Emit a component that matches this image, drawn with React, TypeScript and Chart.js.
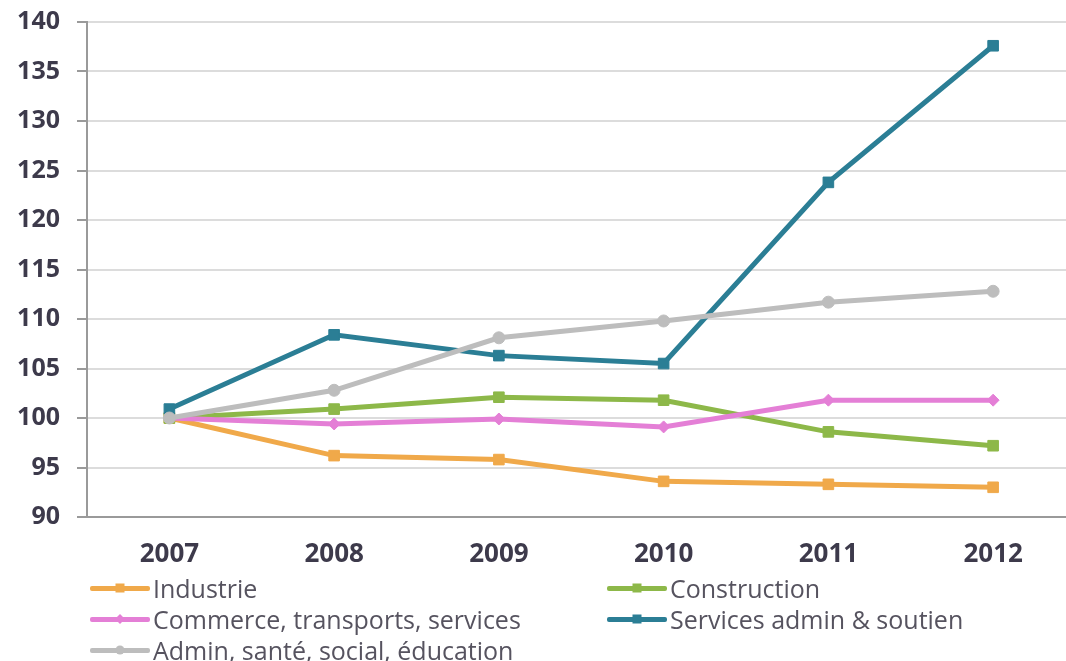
import React, { useEffect, useRef } from "react";
import { Chart, registerables } from "chart.js";

Chart.register(...registerables);

const years = ["2007", "2008", "2009", "2010", "2011", "2012"];
const industrie = [100, 96.2, 95.8, 93.6, 93.3, 93.0];
const construction = [100, 100.9, 102.1, 101.8, 98.6, 97.2];
const commerce = [100, 99.4, 99.9, 99.1, 101.8, 101.8];
const servicesAdmin = [100.9, 108.4, 106.3, 105.5, 123.8, 137.6];
const adminSante = [100, 102.8, 108.1, 109.8, 111.7, 112.8];

const seriesNames = [
  "Industrie",
  "Construction",
  "Commerce, transports, services",
  "Services admin & soutien",
  "Admin, santé, social, éducation",
];
const seriesValues = [industrie, construction, commerce, servicesAdmin, adminSante];
const seriesColors = ["#F0A94A", "#8DB849", "#E47FD6", "#2B7E95", "#BDBDBD"];
const seriesMarkers = ["rect", "rect", "rectRot", "rect", "circle"];
const seriesRadius = [7.5, 7.5, 6, 7.5, 6];
const seriesOrder = [5, 4, 3, 2, 1];

const yMin = 90;
const yMax = 140;
const yStep = 5;

// legend grid: [column, row]
const legendSlots = [
  [0, 0],
  [1, 0],
  [0, 1],
  [1, 1],
  [0, 2],
];

const TEXT_COLOR = "#3d3a4b";
const LEGEND_COLOR = "#56535f";

function LegendMarker({ color, shape }: { color: string; shape: string }) {
  const base: React.CSSProperties = {
    position: "absolute",
    left: "50%",
    top: "50%",
    background: color,
  };
  let style: React.CSSProperties;
  if (shape === "circle") {
    style = { ...base, width: 9, height: 9, borderRadius: "50%", transform: "translate(-50%,-50%)" };
  } else if (shape === "rectRot") {
    style = { ...base, width: 7, height: 7, transform: "translate(-50%,-50%) rotate(45deg)" };
  } else {
    style = { ...base, width: 9, height: 9, transform: "translate(-50%,-50%)" };
  }
  return <div style={style} />;
}

export default function App() {
  const canvasRef = useRef<HTMLCanvasElement | null>(null);

  useEffect(() => {
    const canvas = canvasRef.current;
    if (!canvas) return;
    const chart = new Chart(canvas, {
      type: "line",
      data: {
        labels: years,
        datasets: seriesNames.map((name, i) => ({
          label: name,
          data: seriesValues[i],
          borderColor: seriesColors[i],
          backgroundColor: seriesColors[i],
          borderWidth: 5,
          pointStyle: seriesMarkers[i] as any,
          pointRadius: seriesRadius[i],
          pointBorderWidth: 1,
          pointBorderColor: seriesColors[i],
          pointBackgroundColor: seriesColors[i],
          tension: 0,
          fill: false,
          order: seriesOrder[i],
        })),
      },
      options: {
        responsive: false,
        animation: false,
        layout: { padding: { top: 22, left: 0, right: 0, bottom: 0 } },
        plugins: {
          legend: { display: false },
          title: { display: false },
          tooltip: { enabled: false },
        },
        scales: {
          x: {
            type: "category",
            offset: true,
            grid: { display: false, drawTicks: false },
            border: { display: true, color: "#9a9a9a", width: 2 },
            ticks: {
              color: TEXT_COLOR,
              padding: 22,
              font: { family: "'Open Sans', sans-serif", size: 26, weight: "bold" },
            },
            afterFit: (scale: any) => {
              scale.height = 580 - 517;
            },
          },
          y: {
            min: yMin,
            max: yMax,
            ticks: {
              stepSize: yStep,
              color: TEXT_COLOR,
              padding: 17,
              font: { family: "'Open Sans', sans-serif", size: 25, weight: "bold" },
            },
            grid: {
              color: "#dcdcdc",
              lineWidth: 2,
              tickLength: 10,
              tickColor: "#9a9a9a",
              tickWidth: 2,
            },
            border: { display: true, color: "#9a9a9a", width: 2 },
            afterFit: (scale: any) => {
              scale.width = 87;
              scale.paddingTop = 0;
              scale.paddingBottom = 0;
            },
          },
        },
      },
    });
    return () => chart.destroy();
  }, []);

  return (
    <div
      style={{
        position: "fixed",
        left: 0,
        top: 0,
        width: 1066,
        height: 661,
        overflow: "hidden",
        background: "#ffffff",
      }}
    >
      <canvas ref={canvasRef} width={1084} height={580} style={{ display: "block" }} />
      {seriesNames.map((name, i) => {
        const [col, row] = legendSlots[i];
        const left = col === 0 ? 90 : 607;
        const centerY = [588, 619, 650][row];
        return (
          <div
            key={name}
            style={{
              position: "absolute",
              left,
              top: centerY - 20,
              height: 40,
              display: "flex",
              alignItems: "center",
              whiteSpace: "nowrap",
            }}
          >
            <div
              style={{
                position: "relative",
                width: 60,
                height: 5,
                background: seriesColors[i],
                borderRadius: 2,
                marginRight: 3,
              }}
            >
              <LegendMarker color={seriesColors[i]} shape={seriesMarkers[i]} />
            </div>
            <span
              style={{
                fontFamily: "'Open Sans', sans-serif",
                fontSize: 25,
                color: LEGEND_COLOR,
                lineHeight: "40px",
              }}
            >
              {name}
            </span>
          </div>
        );
      })}
    </div>
  );
}
